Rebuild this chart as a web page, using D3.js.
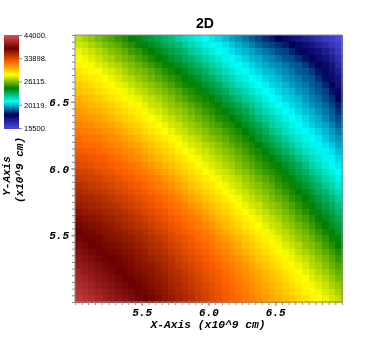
<!DOCTYPE html>
<html>
<head>
<meta charset="utf-8">
<script src="https://cdn.jsdelivr.net/npm/d3@7"></script>
<style>
html, body { margin: 0; padding: 0; background: #fff; }
svg { display: block; filter: blur(0.5px); }
.mono { font-family: "Liberation Mono", monospace; font-weight: bold; font-style: italic; fill: #000; }
</style>
</head>
<body>
<svg id="chart" width="374" height="356"></svg>
<script>
// cell values, in hundreds; first row is the top of the plot (y = 7.0)
const rowsTop = [
[271,267,264,260,257,254,250,247,243,240,237,234,231,228,225,221,218,215,212,209,206,204,201,198,196,193,190,188,185,183,180,177,174,172,169,166,163,160,158,155],
[274,272,268,265,261,258,255,251,248,244,241,238,235,232,229,226,222,219,216,213,210,207,205,202,199,197,194,191,189,187,185,183,180,177,175,172,168,165,161,158],
[278,275,273,269,266,262,259,256,252,249,245,242,239,236,233,230,227,222,219,216,213,210,207,205,202,200,198,195,193,191,188,187,184,181,178,176,173,169,165,160],
[281,279,276,273,269,267,263,260,257,253,250,246,243,240,237,234,230,228,223,220,217,214,211,208,206,203,200,199,196,194,192,189,188,185,182,179,176,173,168,163],
[284,282,280,276,274,270,268,264,261,258,254,251,247,244,241,238,235,231,228,224,220,218,214,211,208,206,203,201,199,196,195,193,190,189,186,182,179,176,172,166],
[288,285,283,281,277,275,271,268,264,261,259,255,252,248,245,242,239,235,232,229,224,221,218,214,211,208,206,204,201,200,197,195,193,190,189,186,182,178,174,169],
[291,289,286,284,281,278,275,271,269,265,262,259,255,252,249,246,243,239,236,232,229,225,221,218,214,212,209,207,204,202,200,197,195,193,190,189,185,181,176,172],
[295,292,290,287,285,282,278,276,272,269,266,263,260,256,253,249,246,244,240,236,233,230,225,221,218,215,212,209,207,204,202,200,197,195,193,190,188,184,179,174],
[298,296,294,291,288,285,283,279,276,272,270,266,263,260,257,254,250,247,244,240,237,233,230,225,222,219,215,212,209,207,204,202,200,197,195,192,189,187,182,177],
[302,300,298,295,292,289,286,283,279,277,273,271,267,264,261,257,254,250,247,245,241,237,233,230,226,222,219,215,212,209,207,204,202,200,197,194,192,188,185,180],
[305,304,301,299,296,293,290,287,284,280,277,273,271,267,264,261,258,255,251,248,245,241,237,234,231,226,222,219,215,212,209,207,204,202,199,196,194,191,187,183],
[309,307,305,303,300,297,294,290,287,285,280,277,274,271,267,265,262,258,255,251,248,245,241,238,234,231,226,222,219,215,212,209,207,204,201,199,196,193,190,185],
[312,311,309,307,304,301,297,294,291,288,285,281,278,274,272,268,265,262,258,255,252,248,246,242,238,234,231,226,222,219,215,212,209,207,204,201,199,195,191,188],
[316,314,313,310,308,305,302,298,295,292,288,285,281,278,274,272,268,265,262,258,255,252,248,246,242,238,234,231,226,221,218,215,211,208,206,203,200,198,194,190],
[319,318,316,314,312,310,306,303,299,296,292,288,285,281,278,274,272,268,265,262,258,256,252,249,246,242,238,234,230,225,221,217,214,211,208,206,203,200,197,193],
[323,321,320,318,316,313,311,307,304,300,296,293,289,286,282,279,275,273,269,265,262,259,256,252,249,246,241,237,233,229,225,221,217,214,211,208,206,202,199,196],
[326,325,323,322,319,317,314,312,308,305,300,297,293,290,286,282,279,275,273,269,266,263,259,256,252,249,246,242,237,233,229,225,221,217,214,211,207,205,202,198],
[330,328,327,325,323,320,318,315,313,309,305,301,297,293,290,286,282,279,275,273,269,266,263,259,256,252,248,246,241,237,233,229,225,221,217,214,211,207,205,201],
[334,333,331,329,328,325,322,319,316,313,309,305,301,297,294,290,287,282,279,275,273,269,266,263,259,255,252,248,245,241,237,233,230,225,221,217,214,211,207,204],
[338,337,335,332,331,328,326,323,320,318,314,310,306,301,298,294,290,287,282,279,275,273,269,266,262,258,255,251,248,245,241,237,233,230,225,220,217,213,210,206]
];
const rowsBottom = [
[342,341,339,337,334,332,329,327,324,321,318,315,310,307,302,298,294,290,287,282,279,275,273,269,265,262,258,255,251,248,245,240,236,232,229,224,220,216,213,209],
[346,345,343,341,338,336,333,330,328,324,322,318,316,311,307,302,298,294,290,287,282,279,275,273,269,265,262,258,255,251,247,244,240,236,232,228,223,219,216,212],
[351,349,347,345,343,340,337,335,331,329,325,322,318,316,311,307,302,298,294,290,287,282,279,275,273,268,265,262,258,255,250,247,244,239,235,231,228,222,219,215],
[355,353,351,349,347,344,341,338,335,332,329,325,322,319,316,311,307,302,298,294,290,287,282,279,275,272,268,265,262,258,254,250,246,243,239,235,230,227,222,218],
[359,357,356,353,351,348,345,342,339,336,332,330,326,323,319,316,311,307,302,298,294,290,286,282,279,274,272,268,265,261,257,254,249,246,242,238,234,230,226,221],
[363,361,359,357,354,352,350,346,343,339,336,333,330,326,323,319,316,311,307,302,298,294,290,286,282,278,274,272,267,264,261,257,253,249,245,241,237,233,229,225],
[367,365,363,361,359,356,353,351,347,344,340,337,333,330,326,323,319,316,311,307,301,297,293,290,286,281,278,274,271,267,264,260,256,252,248,244,240,236,232,228],
[371,369,367,365,362,360,357,354,351,348,344,340,337,333,330,326,322,318,316,310,306,301,297,293,289,285,281,278,274,271,267,263,260,255,252,247,243,239,235,231],
[375,373,370,368,366,364,361,357,354,351,348,344,340,337,333,330,325,322,318,315,310,305,301,297,293,288,285,281,277,273,271,266,263,259,255,251,246,242,238,234],
[379,376,374,371,369,367,364,362,358,355,352,348,344,340,336,332,329,325,322,318,314,309,305,300,296,292,288,285,280,277,273,270,266,262,259,254,250,245,241,237],
[383,380,377,375,372,369,368,365,362,358,355,351,348,344,339,336,332,329,324,321,318,313,309,305,300,296,292,288,285,280,277,272,269,265,261,258,253,249,244,240],
[388,384,380,377,375,373,370,368,365,362,358,354,351,347,343,339,335,331,328,324,320,316,313,308,304,299,295,291,287,284,279,276,272,269,264,261,257,252,248,243],
[392,388,384,381,378,375,373,370,368,365,362,357,354,351,346,342,338,335,330,327,323,319,315,312,307,303,298,294,290,287,283,279,276,271,268,264,260,256,251,247],
[396,392,388,384,381,378,376,373,370,367,364,361,357,353,350,345,341,337,333,329,326,322,318,314,311,306,302,297,294,290,286,283,278,275,271,268,263,259,255,250],
[400,396,392,388,384,381,377,375,372,369,367,364,360,356,352,348,344,340,336,332,328,325,320,317,313,310,305,301,297,293,289,285,282,278,275,270,267,262,258,254],
[405,400,396,392,388,384,380,378,375,372,369,366,362,359,354,351,347,343,338,334,331,328,323,319,316,312,308,304,300,296,292,288,285,281,277,274,269,266,261,257],
[409,405,400,396,392,388,384,380,377,375,371,368,365,361,357,353,349,345,341,337,332,329,325,322,318,314,310,307,303,299,295,291,287,284,281,276,273,269,265,260],
[414,409,405,400,396,392,388,384,380,377,374,370,367,363,359,356,351,347,343,339,335,331,327,323,320,316,313,309,305,301,298,294,290,286,283,280,276,273,268,264],
[418,414,409,405,400,396,392,388,384,380,376,373,369,365,361,357,353,349,345,341,337,333,328,325,321,318,314,311,307,304,300,296,292,289,285,282,279,275,272,267],
[422,418,414,409,405,400,396,392,388,383,379,375,371,367,363,359,355,351,346,342,338,334,330,326,323,319,316,312,309,305,302,298,295,291,288,284,281,278,274,271]
];
const legendTicks = [44000, 33898, 26115, 20119, 15500];
const xLabels = [5.5, 6.0, 6.5];
const yLabels = [5.5, 6.0, 6.5];
const colorStops = [0, 0.143, 0.285, 0.429, 0.571, 0.714, 0.857, 1];
const colorRange = ["#4747db", "#00005b", "#00ffff", "#007f00", "#ffff00", "#ff6000", "#6b0000", "#e04c4c"];

const cellRows = rowsTop.concat(rowsBottom);
const cellSize = 0.05; // grid spacing in axis units

const svg = d3.select("#chart");
const x = d3.scaleLinear().domain([5, 7]).range([75, 342]);
const y = d3.scaleLinear().domain([5, 7]).range([302, 35]);
const logPos = d3.scaleLog().domain([15500, 44000]).range([0, 1]);
const stopColor = d3.scaleLinear().domain(colorStops).range(colorRange);
const color = v => stopColor(logPos(v));

// heat map cells
const cells = [];
cellRows.forEach((row, r) => row.forEach((v, c) => cells.push({ r, c, v: v * 100 })));
svg.append("g").attr("shape-rendering", "crispEdges").selectAll("rect")
    .data(cells)
    .join("rect")
    .attr("x", d => x(5 + d.c * cellSize))
    .attr("y", d => y(7 - d.r * cellSize))
    .attr("width", x(5 + cellSize) - x(5) + 0.5)
    .attr("height", y(5) - y(5 + cellSize) + 0.5)
    .attr("fill", d => color(d.v));

// frame
svg.append("rect")
    .attr("x", x(5)).attr("y", y(7))
    .attr("width", x(7) - x(5)).attr("height", y(5) - y(7))
    .attr("fill", "none").attr("stroke", "#8a8a8a").attr("stroke-width", 1);

// ticks
const minorTicks = d3.range(0, 41).map(i => 5 + i * cellSize);
const styleAxis = g => {
    g.select(".domain").remove();
    g.selectAll("line").attr("stroke", "#888");
};
svg.append("g").attr("transform", `translate(0,${y(5)})`)
    .call(d3.axisBottom(x).tickValues(minorTicks).tickSize(3).tickFormat(""))
    .call(styleAxis);
svg.append("g").attr("transform", `translate(${x(5)},0)`)
    .call(d3.axisLeft(y).tickValues(minorTicks).tickSize(3).tickFormat(""))
    .call(styleAxis);
svg.append("g").attr("transform", `translate(0,${y(5)})`)
    .call(d3.axisBottom(x).tickValues(xLabels).tickSize(4).tickPadding(2).tickFormat(d3.format(".1f")))
    .call(styleAxis)
    .selectAll("text").attr("class", "mono").style("font-size", "11px").attr("fill", null);
svg.append("g").attr("transform", `translate(${x(5)},0)`)
    .call(d3.axisLeft(y).tickValues(yLabels).tickSize(4).tickPadding(2).tickFormat(d3.format(".1f")))
    .call(styleAxis)
    .selectAll("text").attr("class", "mono").style("font-size", "11px").attr("fill", null);

// titles
svg.append("text").attr("x", 205).attr("y", 28)
    .attr("text-anchor", "middle")
    .style("font-family", "'Liberation Sans', sans-serif")
    .style("font-weight", "bold").style("font-size", "14px")
    .text("2D");
svg.append("text").attr("class", "mono").attr("x", 208).attr("y", 328)
    .attr("text-anchor", "middle").style("font-size", "11.3px")
    .text("X-Axis (x10^9 cm)");
svg.append("text").attr("class", "mono")
    .attr("transform", "translate(10,176) rotate(-90)")
    .attr("text-anchor", "middle").style("font-size", "11px")
    .text("Y-Axis");
svg.append("text").attr("class", "mono")
    .attr("transform", "translate(23,170) rotate(-90)")
    .attr("text-anchor", "middle").style("font-size", "11px")
    .text("(x10^9 cm)");

// legend
const legendY = d3.scaleLog().domain([15500, 44000]).range([128, 35]);
svg.append("g").attr("shape-rendering", "crispEdges").selectAll("rect")
    .data(d3.range(35, 128))
    .join("rect")
    .attr("x", 4).attr("y", d => d)
    .attr("width", 15).attr("height", 1.5)
    .attr("fill", d => color(legendY.invert(d + 0.5)));
const legendAxis = d3.axisRight(legendY)
    .tickValues(legendTicks).tickSize(3).tickPadding(2)
    .tickFormat(d => d + ".");
svg.append("g").attr("transform", "translate(19,0)")
    .call(legendAxis)
    .call(styleAxis)
    .selectAll("text")
    .style("font-family", "'Liberation Sans', sans-serif")
    .style("font-size", "7.5px").attr("fill", "#000");
</script>
</body>
</html>
